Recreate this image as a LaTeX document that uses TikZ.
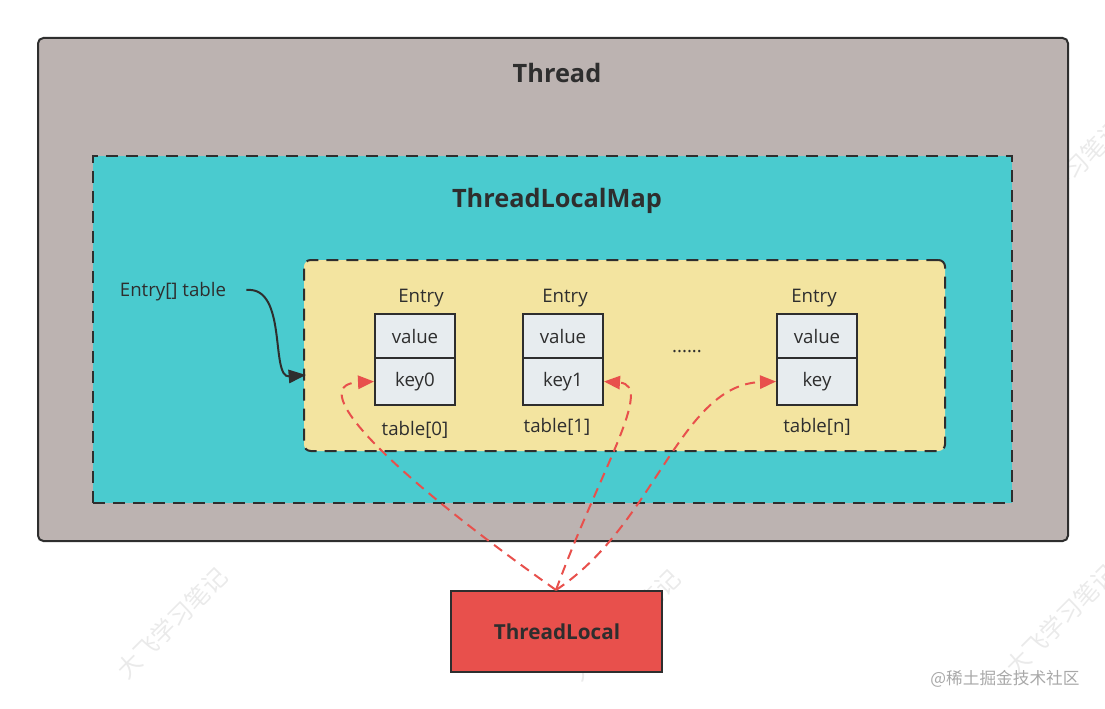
\documentclass[tikz,border=0pt]{standalone}
\usepackage{fontspec}
\setmainfont{Open Sans}
\newfontfamily\cjk{Noto Sans CJK SC}
\usetikzlibrary{fit,arrows.meta}
\definecolor{threadbg}{HTML}{BCB3B1}
\definecolor{mapbg}{HTML}{4ACBCF}
\definecolor{tabbg}{HTML}{F3E4A0}
\definecolor{cellbg}{HTML}{E7ECEF}
\definecolor{tlred}{HTML}{E8504C}
\definecolor{ink}{HTML}{2E2E2E}
\definecolor{wm}{HTML}{EAEAEA}
\definecolor{wmtext}{HTML}{A8A8A8}
\tikzset{
  box/.style={inner sep=0pt, line width=1.5pt, draw=ink},
  dashbox/.style={box, dash pattern=on 9pt off 6pt},
  cell/.style={box, fill=cellbg, text=ink, font=\fontsize{14}{16}\selectfont,
    minimum width=60pt},
  valcell/.style={cell, minimum height=33pt},
  keycell/.style={cell, minimum height=35.25pt},
  small/.style={text=ink, font=\fontsize{14}{16}\selectfont, inner sep=0pt},
  title/.style={text=ink, font=\fontsize{19}{21}\selectfont\bfseries, inner sep=0pt},
  refarrow/.style={draw=tlred, line width=1.5pt, dash pattern=on 7.5pt off 5pt,
    -{Triangle[length=12pt,width=10pt]}, tlred},
  watermark/.style={text=wm, font=\cjk\fontsize{18}{20}\selectfont, rotate=45, inner sep=0pt}
}
\begin{document}
\begin{tikzpicture}[x=0.75pt,y=-0.75pt]
\useasboundingbox (0,0) rectangle (1105,709);
% watermarks
\node[watermark] (wm1) at (172,623) {大飞学习笔记};
\node[watermark] (wm2) at (625,625) {大飞学习笔记};
\node[watermark] (wm3) at (1068,175) {大飞学习笔记};
\node[watermark] (wm4) at (1061,620) {大飞学习笔记};
% boxes
\node[box, fill=threadbg, rounded corners=4pt, fit={(38,38) (1068,541)}] (thread) {};
\node[title] (threadlbl) at (557,73) {Thread};
\node[dashbox, fill=mapbg, fit={(93,156) (1012,503)}] (map) {};
\node[title] (maplbl) at (557,201) {ThreadLocalMap};
\node[dashbox, fill=tabbg, rounded corners=5pt, fit={(304,260) (945,451)}] (tab) {};
\node[small] (tbl) at (173,292) {Entry[] table};
% entries
\node[valcell] (v0) at (415,336) {value};
\node[keycell] (k0) at (415,381.5) {key0};
\node[small] (e0) at (421,298) {Entry};
\node[small] (t0) at (415,430) {table[0]};
\node[valcell] (v1) at (563,336) {value};
\node[keycell] (k1) at (563,381.5) {key1};
\node[small] (e1) at (565,298) {Entry};
\node[small] (t1) at (557,427) {table[1]};
\node[small] (dots) at (687,352) {......};
\node[valcell] (vn) at (817,336) {value};
\node[keycell] (kn) at (817,381.5) {key};
\node[small] (en) at (814,298) {Entry};
\node[small] (tn) at (817,427) {table[n]};
% ThreadLocal
\node[box, fill=tlred, fit={(451,591) (662,672)}] (tl) {};
\node[title, font=\fontsize{15.5}{17}\selectfont\bfseries] (tllbl) at (557,632) {ThreadLocal};
% Entry[] table arrow
\coordinate (tabin) at (306,375);
\draw[line width=1.5pt, draw=ink, -{Triangle[length=13pt,width=10pt]}]
  (tbl.east) ++(20,-2) coordinate (tblout) .. controls (288,286) and (270,378) .. (tabin);
% references
\coordinate (tlsrc) at (556,590);
\draw[refarrow] (tlsrc) .. controls (400,480) and (300,385) .. (k0.west);
\draw[refarrow] (tlsrc) .. controls (600,470) and (655,385) .. (k1.east);
\draw[refarrow] (tlsrc) .. controls (655,525) and (680,385) .. (kn.west);
% site mark
\node[text=wmtext, font=\cjk\fontsize{12.5}{14}\selectfont, inner sep=0pt] (site) at (1005,679) {@稀土掘金技术社区};
\end{tikzpicture}
\end{document}
